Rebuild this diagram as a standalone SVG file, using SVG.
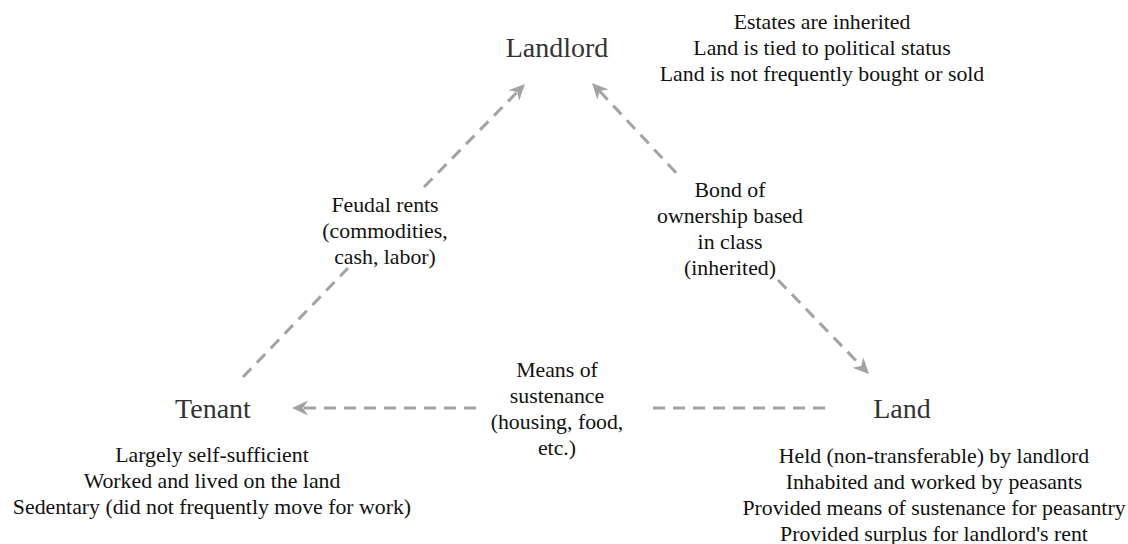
<svg xmlns="http://www.w3.org/2000/svg" width="1128" height="544" viewBox="0 0 1128 544">
<style>
text{font-family:"Liberation Serif","Times New Roman",serif;text-anchor:middle}
.node{font-size:28px;fill:#333}
.desc{font-size:21.8px;fill:#111}
.lbl{font-size:21.8px;fill:#111}
.edge{stroke:#a3a3a3;stroke-width:3;stroke-dasharray:12 8;fill:none}
</style>
<defs>
<marker id="arr" viewBox="-17 -9 19 18" refX="-11" refY="0" markerWidth="19" markerHeight="18" markerUnits="userSpaceOnUse" orient="auto-start-reverse">
<path d="M0,0 L-16,-7.5 L-11,0 L-16,7.5 Z" fill="#a3a3a3"/>
</marker>
</defs>
<rect width="1128" height="544" fill="#fff"/>
<g id="connectors">
<g id="edge-rents">
<line class="edge" x1="243" y1="377" x2="348" y2="268"/>
<line class="edge" x1="424" y1="187" x2="517.3" y2="91.9" marker-end="url(#arr)"/>
<text class="lbl"><tspan x="385" y="212">Feudal rents</tspan><tspan x="385" y="238">(commodities,</tspan><tspan x="385" y="264">cash, labor)</tspan></text>
</g>
<g id="edge-bond">
<line class="edge" x1="599.5" y1="91" x2="680" y2="177" marker-start="url(#arr)"/>
<line class="edge" x1="778" y1="280" x2="861.3" y2="366.1" marker-end="url(#arr)"/>
<text class="lbl"><tspan x="730" y="197">Bond of</tspan><tspan x="730" y="223">ownership based</tspan><tspan x="730" y="249">in class</tspan><tspan x="730" y="275">(inherited)</tspan></text>
</g>
<g id="edge-sustenance">
<line class="edge" x1="825" y1="408" x2="645" y2="408"/>
<line class="edge" x1="476" y1="408" x2="303" y2="408" marker-end="url(#arr)"/>
<text class="lbl"><tspan x="557" y="377">Means of</tspan><tspan x="557" y="403">sustenance</tspan><tspan x="557" y="429">(housing, food,</tspan><tspan x="557" y="455">etc.)</tspan></text>
</g>
</g>
<g id="node-landlord">
<text class="node" x="557" y="57">Landlord</text>
<text class="desc"><tspan x="822" y="29">Estates are inherited</tspan><tspan x="822" y="55">Land is tied to political status</tspan><tspan x="822" y="81">Land is not frequently bought or sold</tspan></text>
</g>
<g id="node-tenant">
<text class="node" x="213" y="418">Tenant</text>
<text class="desc"><tspan x="212" y="462">Largely self-sufficient</tspan><tspan x="212" y="488">Worked and lived on the land</tspan><tspan x="212" y="514">Sedentary (did not frequently move for work)</tspan></text>
</g>
<g id="node-land">
<text class="node" x="902" y="418">Land</text>
<text class="desc"><tspan x="934" y="463">Held (non-transferable) by landlord</tspan><tspan x="934" y="489">Inhabited and worked by peasants</tspan><tspan x="934" y="515">Provided means of sustenance for peasantry</tspan><tspan x="934" y="541">Provided surplus for landlord's rent</tspan></text>
</g>
</svg>
